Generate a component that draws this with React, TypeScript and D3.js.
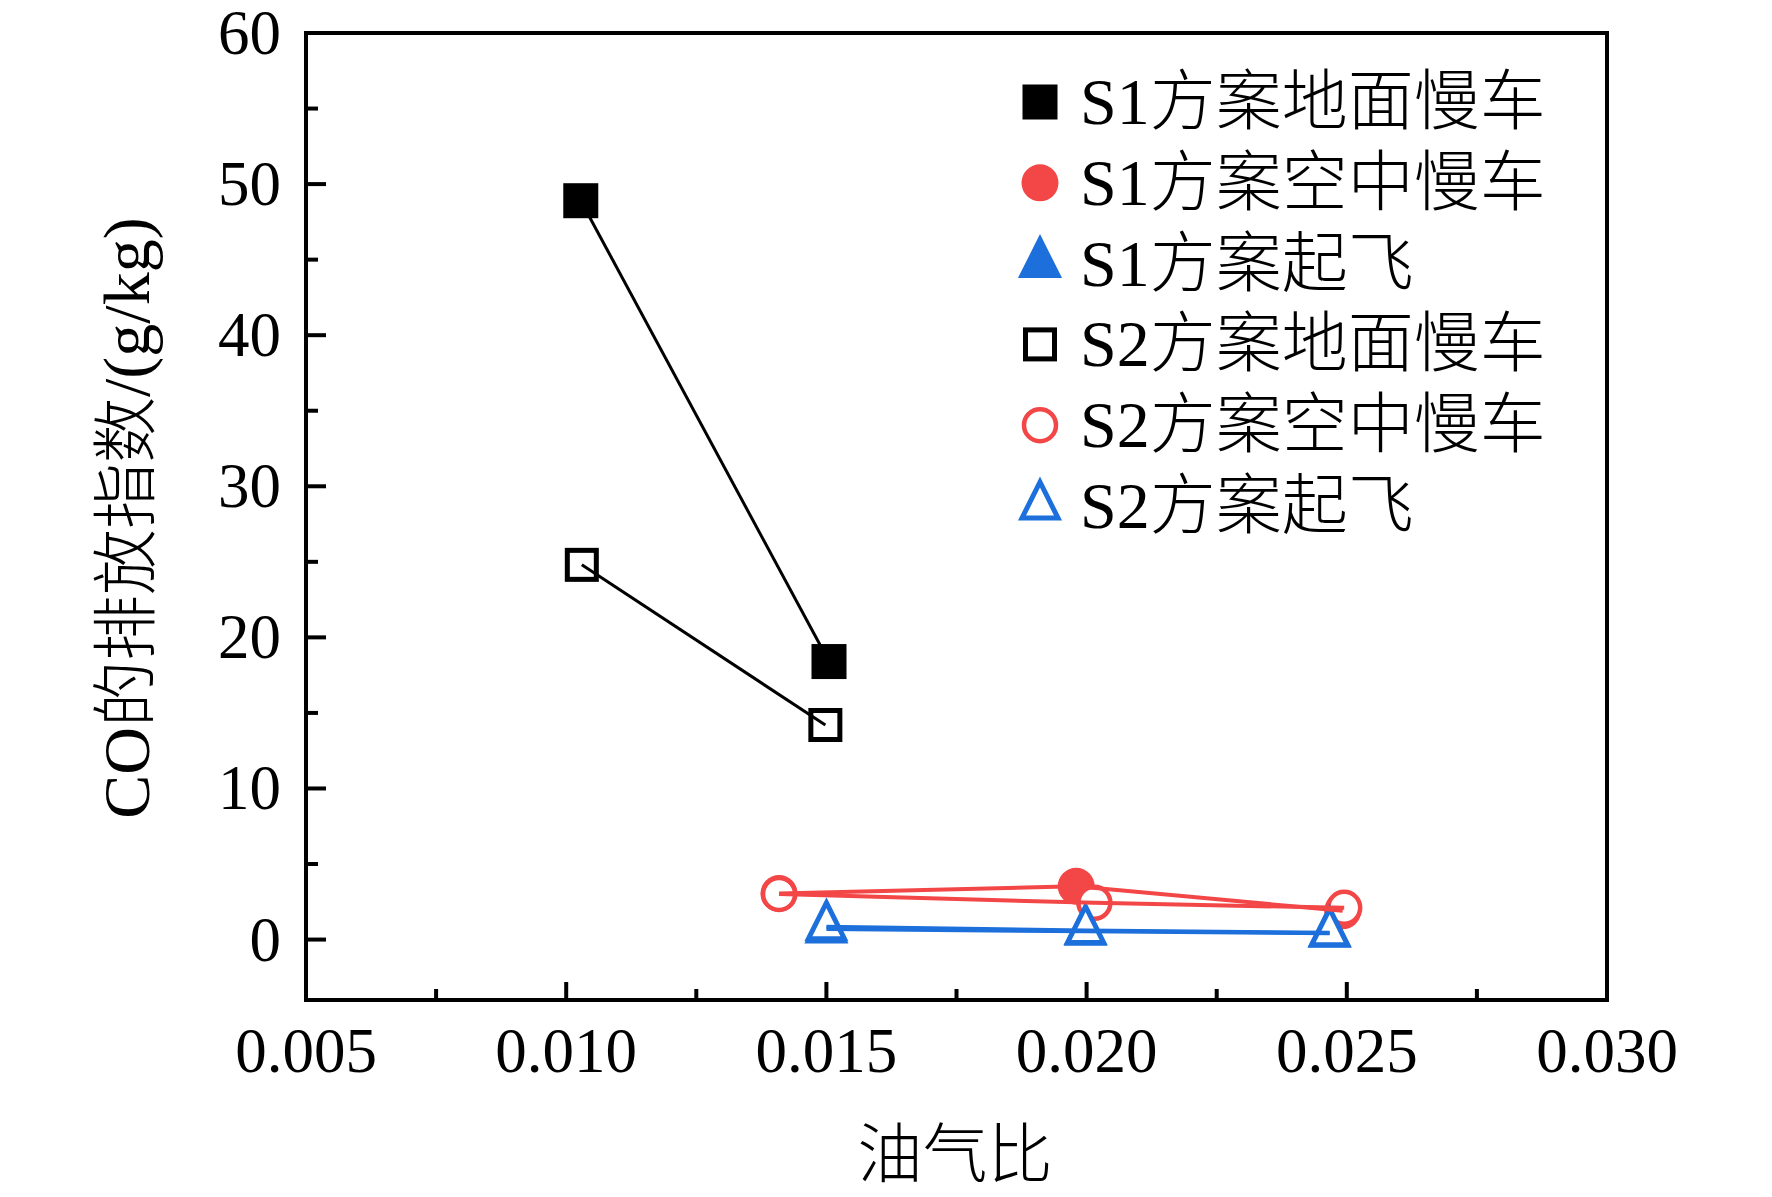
import React from "react";
import * as d3 from "d3";

// ---- data ----
const xS1Ground = [0.01028, 0.01505];
const yS1Ground = [48.9, 18.4];
const xS2Ground = [0.0103, 0.01498];
const yS2Ground = [24.8, 14.2];
const xS1Air = [0.01409, 0.0198, 0.02492];
const yS1Air = [3.05, 3.53, 1.9];
const xS2Air = [0.01409, 0.02015, 0.02495];
const yS2Air = [3.02, 2.43, 2.1];
const xS1Takeoff = [0.015, 0.01998, 0.02467];
const yS1Takeoff = [0.7, 0.55, 0.42];
const xS2Takeoff = [0.015, 0.01998, 0.02467];
const yS2Takeoff = [0.85, 0.6, 0.45];

const xTicks = [0.005, 0.01, 0.015, 0.02, 0.025, 0.03];
const xMinorTicks = [0.0075, 0.0125, 0.0175, 0.0225, 0.0275];
const yTicks = [0, 10, 20, 30, 40, 50, 60];
const yMinorTicks = [5, 15, 25, 35, 45, 55];

const legendLabels = [
  "S1方案地面慢车",
  "S1方案空中慢车",
  "S1方案起飞",
  "S2方案地面慢车",
  "S2方案空中慢车",
  "S2方案起飞",
];

const xTitle = "油气比";
const yTitle = "CO的排放指数/(g/kg)";

const RED = "#F34646";
const BLUE = "#1D6FDB";
const BLACK = "#000000";

type Shape = "square" | "circle" | "triangle";
interface Series {
  xs: number[];
  ys: number[];
  color: string;
  shape: Shape;
  filled: boolean;
  lineWidth: number;
}

const series: Series[] = [
  { xs: xS1Ground, ys: yS1Ground, color: BLACK, shape: "square", filled: true, lineWidth: 3 },
  { xs: xS1Air, ys: yS1Air, color: RED, shape: "circle", filled: true, lineWidth: 4 },
  { xs: xS1Takeoff, ys: yS1Takeoff, color: BLUE, shape: "triangle", filled: true, lineWidth: 4 },
  { xs: xS2Ground, ys: yS2Ground, color: BLACK, shape: "square", filled: false, lineWidth: 3 },
  { xs: xS2Air, ys: yS2Air, color: RED, shape: "circle", filled: false, lineWidth: 4 },
  { xs: xS2Takeoff, ys: yS2Takeoff, color: BLUE, shape: "triangle", filled: false, lineWidth: 4 },
];

const W = 1772;
const H = 1197;
const left = 306;
const right = 1607;
const top = 33;
const bottom = 1000;

const FONT = "'Liberation Serif', 'Times New Roman', 'Noto Sans CJK SC', serif";

function Marker({ shape, filled, color, x, y }: { shape: Shape; filled: boolean; color: string; x: number; y: number }) {
  if (shape === "square") {
    return filled ? (
      <rect x={x - 17.5} y={y - 17.5} width={35} height={35} fill={color} />
    ) : (
      <rect x={x - 14.5} y={y - 14.5} width={29} height={29} fill="#fff" stroke={color} strokeWidth={5} />
    );
  }
  if (shape === "circle") {
    return filled ? (
      <circle cx={x} cy={y} r={18.5} fill={color} />
    ) : (
      <circle cx={x} cy={y} r={16} fill="#fff" stroke={color} strokeWidth={4.5} />
    );
  }
  const p = `M${x},${y - 24}L${x + 18},${y + 12}L${x - 18},${y + 12}Z`;
  return (
    <path
      d={p}
      fill={filled ? color : "#fff"}
      stroke={color}
      strokeWidth={5}
      strokeLinejoin="miter"
    />
  );
}

export default function App() {
  const x = d3.scaleLinear().domain([0.005, 0.03]).range([left, right]);
  const y = d3.scaleLinear().domain([-4, 60]).range([bottom, top]);
  const line = d3
    .line<[number, number]>()
    .x((d) => x(d[0]))
    .y((d) => y(d[1]));

  const axisW = 4;
  const fmtX = d3.format(".3f");

  return (
    <svg
      width={W}
      height={H}
      viewBox={`0 0 ${W} ${H}`}
      style={{ position: "absolute", left: 0, top: 0, background: "#fff" }}
      fontFamily={FONT}
    >
      <rect x={0} y={0} width={W} height={H} fill="#fff" />

      {/* markers: S1 first, then S2 (white-filled) */}
      {series.map((s, si) =>
        s.xs.map((xv, i) => (
          <Marker key={`m${si}-${i}`} shape={s.shape} filled={s.filled} color={s.color} x={x(xv)} y={y(s.ys[i])} />
        ))
      )}

      {/* lines on top */}
      {series.map((s, si) => (
        <path
          key={`l${si}`}
          d={line(s.xs.map((xv, i) => [xv, s.ys[i]] as [number, number])) || ""}
          fill="none"
          stroke={s.color}
          strokeWidth={s.lineWidth}
        />
      ))}

      {/* frame */}
      <rect
        x={left}
        y={top}
        width={right - left}
        height={bottom - top}
        fill="none"
        stroke="#000"
        strokeWidth={axisW}
      />

      {/* y ticks */}
      {yTicks.map((t) => (
        <g key={`yt${t}`}>
          <line x1={left} x2={left + 20} y1={y(t)} y2={y(t)} stroke="#000" strokeWidth={axisW} />
          <text
            x={281}
            y={y(t) + 21}
            textAnchor="end"
            fontSize={63}
            fill="#000"
          >
            {t}
          </text>
        </g>
      ))}
      {yMinorTicks.map((t) => (
        <line key={`ym${t}`} x1={left} x2={left + 12} y1={y(t)} y2={y(t)} stroke="#000" strokeWidth={axisW} />
      ))}

      {/* x ticks */}
      {xTicks.map((t) => (
        <g key={`xt${t}`}>
          <line x1={x(t)} x2={x(t)} y1={bottom} y2={bottom - 18} stroke="#000" strokeWidth={axisW} />
          <text x={x(t)} y={1072} textAnchor="middle" fontSize={63} fill="#000">
            {fmtX(t)}
          </text>
        </g>
      ))}
      {xMinorTicks.map((t) => (
        <line key={`xm${t}`} x1={x(t)} x2={x(t)} y1={bottom} y2={bottom - 11} stroke="#000" strokeWidth={axisW} />
      ))}

      {/* axis titles */}
      <text x={955} y={1177} textAnchor="middle" fontSize={65} fontWeight={300} fill="#000">
        {xTitle}
      </text>
      <text
        transform={`translate(126,518) rotate(-90)`}
        textAnchor="middle"
        dominantBaseline="central"
        fontSize={66}
        fontWeight={300}
        fill="#000"
      >
        {yTitle}
      </text>

      {/* legend */}
      {series.map((s, i) => {
        const cy = 102 + i * 80.8;
        return (
          <g key={`lg${i}`}>
            <Marker shape={s.shape} filled={s.filled} color={s.color} x={1040} y={cy} />
            <text x={1080} y={cy + 22} fontSize={66} fontWeight={300} fill="#000">
              {legendLabels[i]}
            </text>
          </g>
        );
      })}
    </svg>
  );
}
